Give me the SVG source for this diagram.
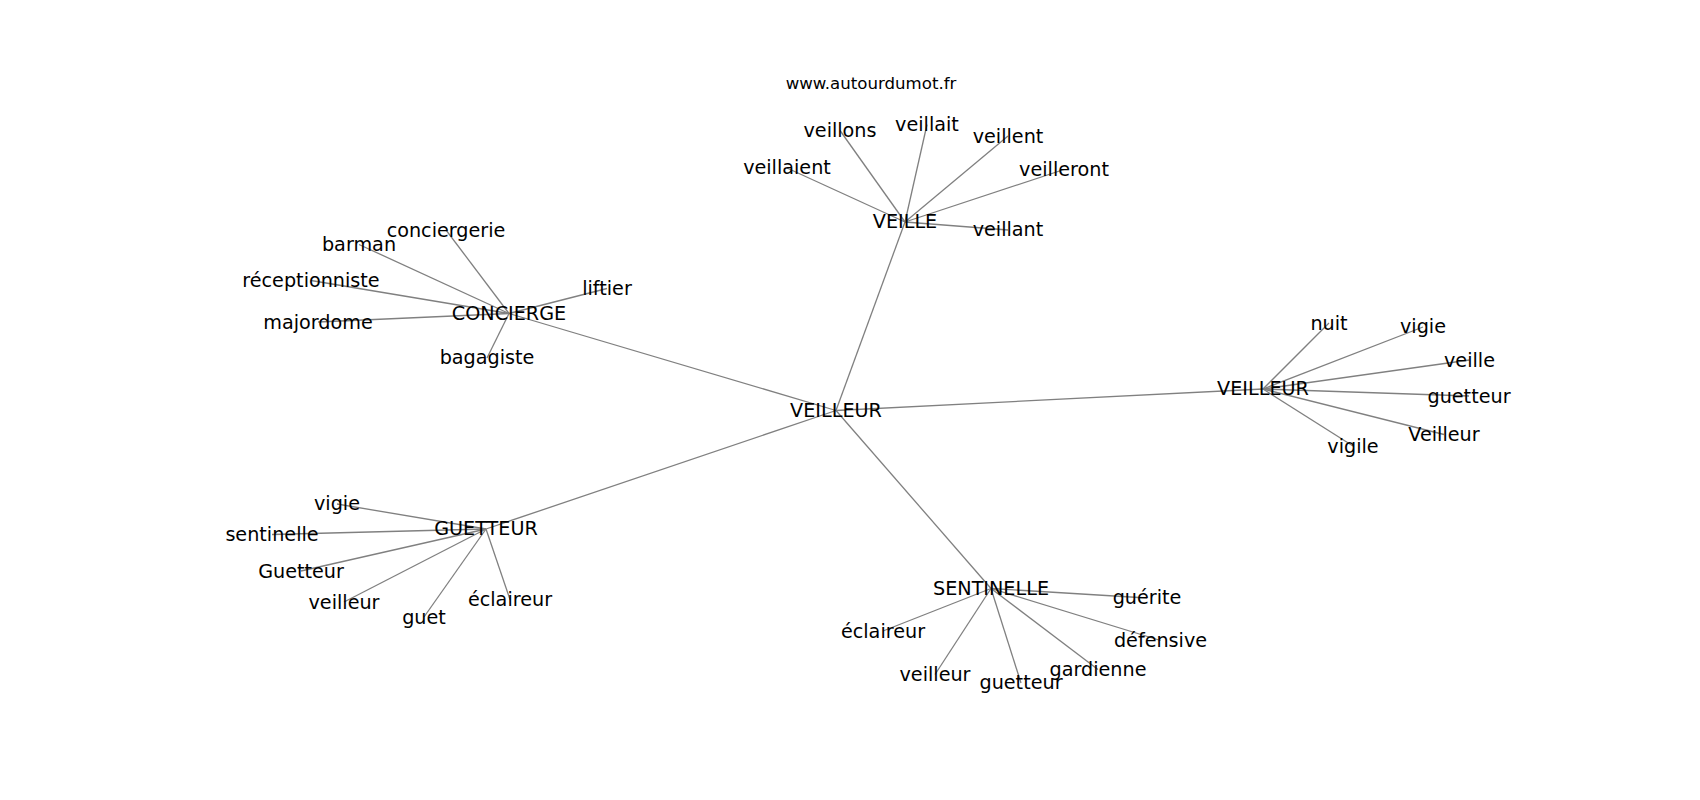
<svg xmlns="http://www.w3.org/2000/svg" width="1700" height="800" viewBox="0 0 1700 800">
<style>
.e{stroke:#808080;stroke-width:1.3;fill:none}
text{font-family:"DejaVu Sans","Liberation Sans",sans-serif;font-size:19.2px;fill:#000;text-anchor:middle}
.t{font-size:16.6px}
</style>
<rect width="1700" height="800" fill="#fff"/>
<g id="edges">
<line class="e" x1="836" y1="410.5" x2="905" y2="222"/>
<line class="e" x1="836" y1="410.5" x2="509" y2="313.5"/>
<line class="e" x1="836" y1="410.5" x2="1263" y2="389"/>
<line class="e" x1="836" y1="410.5" x2="486" y2="529"/>
<line class="e" x1="836" y1="410.5" x2="991" y2="588.5"/>
<line class="e" x1="905" y1="222" x2="840" y2="130.5"/>
<line class="e" x1="905" y1="222" x2="927" y2="124.5"/>
<line class="e" x1="905" y1="222" x2="1008" y2="136"/>
<line class="e" x1="905" y1="222" x2="787" y2="168"/>
<line class="e" x1="905" y1="222" x2="1064" y2="169.5"/>
<line class="e" x1="905" y1="222" x2="1008" y2="230"/>
<line class="e" x1="509" y1="313.5" x2="446" y2="230"/>
<line class="e" x1="509" y1="313.5" x2="359" y2="244.5"/>
<line class="e" x1="509" y1="313.5" x2="311" y2="280.5"/>
<line class="e" x1="509" y1="313.5" x2="607" y2="288.5"/>
<line class="e" x1="509" y1="313.5" x2="318" y2="322"/>
<line class="e" x1="509" y1="313.5" x2="487" y2="358"/>
<line class="e" x1="1263" y1="389" x2="1329" y2="323"/>
<line class="e" x1="1263" y1="389" x2="1423" y2="327"/>
<line class="e" x1="1263" y1="389" x2="1469.5" y2="360"/>
<line class="e" x1="1263" y1="389" x2="1469" y2="396"/>
<line class="e" x1="1263" y1="389" x2="1444" y2="434.5"/>
<line class="e" x1="1263" y1="389" x2="1353" y2="446"/>
<line class="e" x1="486" y1="529" x2="337" y2="504"/>
<line class="e" x1="486" y1="529" x2="272" y2="534.5"/>
<line class="e" x1="486" y1="529" x2="301" y2="571"/>
<line class="e" x1="486" y1="529" x2="344" y2="602"/>
<line class="e" x1="486" y1="529" x2="510" y2="599.5"/>
<line class="e" x1="486" y1="529" x2="424" y2="617"/>
<line class="e" x1="991" y1="588.5" x2="1147" y2="598"/>
<line class="e" x1="991" y1="588.5" x2="883" y2="631"/>
<line class="e" x1="991" y1="588.5" x2="1160.5" y2="640.5"/>
<line class="e" x1="991" y1="588.5" x2="1098" y2="669.5"/>
<line class="e" x1="991" y1="588.5" x2="935" y2="674.5"/>
<line class="e" x1="991" y1="588.5" x2="1021" y2="683"/>
</g>
<text class="t" x="871" y="88.5">www.autourdumot.fr</text>
<g id="n-veilleur"><text x="836" y="417">VEILLEUR</text></g>
<g id="n-veille"><text x="905" y="228.3">VEILLE</text></g>
<g id="n-veillons"><text x="840" y="137">veillons</text></g>
<g id="n-veillait"><text x="927" y="131">veillait</text></g>
<g id="n-veillent"><text x="1008" y="142.7">veillent</text></g>
<g id="n-veillaient"><text x="787" y="174.3">veillaient</text></g>
<g id="n-veilleront"><text x="1064" y="176">veilleront</text></g>
<g id="n-veillant"><text x="1008" y="236.3">veillant</text></g>
<g id="n-concierge"><text x="509" y="320">CONCIERGE</text></g>
<g id="n-conciergerie"><text x="446" y="236.7">conciergerie</text></g>
<g id="n-barman"><text x="359" y="251">barman</text></g>
<g id="n-receptionniste"><text x="311" y="287">réceptionniste</text></g>
<g id="n-liftier"><text x="607" y="295">liftier</text></g>
<g id="n-majordome"><text x="318" y="328.7">majordome</text></g>
<g id="n-bagagiste"><text x="487" y="364.3">bagagiste</text></g>
<g id="n-veilleur2"><text x="1263" y="395.3">VEILLEUR</text></g>
<g id="n-nuit"><text x="1329" y="330.3">nuit</text></g>
<g id="n-vigie1"><text x="1423" y="333.3">vigie</text></g>
<g id="n-veille2"><text x="1469.5" y="366.7">veille</text></g>
<g id="n-guetteur1"><text x="1469" y="402.7">guetteur</text></g>
<g id="n-Veilleur3"><text x="1444" y="441">Veilleur</text></g>
<g id="n-vigile"><text x="1353" y="452.7">vigile</text></g>
<g id="n-guetteurH"><text x="486" y="535.3">GUETTEUR</text></g>
<g id="n-vigie2"><text x="337" y="510.3">vigie</text></g>
<g id="n-sentinelle"><text x="272" y="541">sentinelle</text></g>
<g id="n-Guetteur"><text x="301" y="577.7">Guetteur</text></g>
<g id="n-veilleur4"><text x="344" y="608.7">veilleur</text></g>
<g id="n-eclaireur1"><text x="510" y="606">éclaireur</text></g>
<g id="n-guet"><text x="424" y="623.7">guet</text></g>
<g id="n-sentinelleH"><text x="991" y="595">SENTINELLE</text></g>
<g id="n-guerite"><text x="1147" y="604.3">guérite</text></g>
<g id="n-eclaireur2"><text x="883" y="637.7">éclaireur</text></g>
<g id="n-defensive"><text x="1160.5" y="647">défensive</text></g>
<g id="n-gardienne"><text x="1098" y="676">gardienne</text></g>
<g id="n-veilleur5"><text x="935" y="681">veilleur</text></g>
<g id="n-guetteur2"><text x="1021" y="689.3">guetteur</text></g>
</svg>
